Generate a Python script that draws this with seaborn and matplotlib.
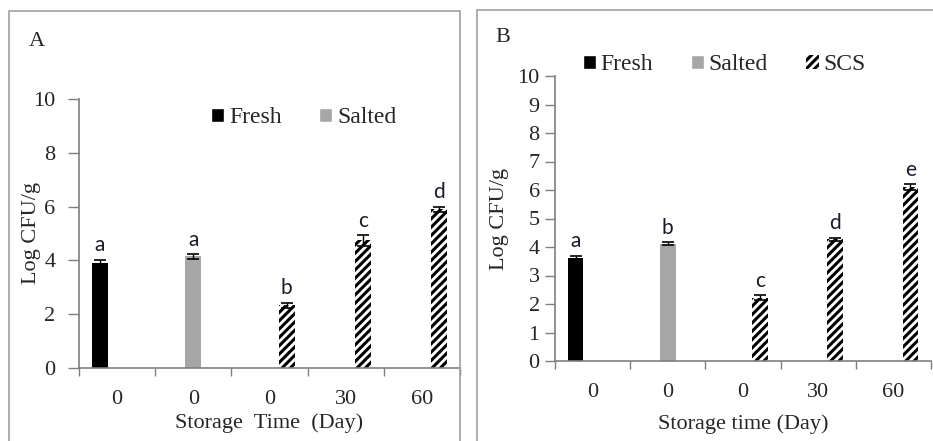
import pandas as pd
import matplotlib.pyplot as plt
import matplotlib.patches as mpatches
import seaborn as sns

# Data
categories = ['F0', 'S0', 'C0', 'C30', 'C60']
tick_labels = ['0', '0', '0', '30', '60']
series = ['Fresh', 'Salted', 'SCS', 'SCS', 'SCS']
series_order = ['Fresh', 'Salted', 'SCS']

mean_a = [3.9, 4.15, 2.33, 4.75, 5.9]
err_a = [0.13, 0.08, 0.1, 0.2, 0.1]
letters_a = ['a', 'a', 'b', 'c', 'd']

mean_b = [3.62, 4.12, 2.22, 4.27, 6.1]
err_b = [0.08, 0.04, 0.08, 0.06, 0.1]
letters_b = ['a', 'b', 'c', 'd', 'e']

colors = {'Fresh': '#000000', 'Salted': '#a6a6a6', 'SCS': '#ffffff'}

sns.set_style('white')
plt.rcParams['font.family'] = ['Liberation Serif', 'DejaVu Serif']
plt.rcParams['hatch.linewidth'] = 2.2
plt.rcParams['hatch.color'] = 'black'

W, H = 933, 441
fig = plt.figure(figsize=(W / 100, H / 100), dpi=100)


def px_axes(left, right, top, bottom):
    return fig.add_axes([left / W, 1 - bottom / H, (right - left) / W, (bottom - top) / H])


def draw_panel(ax, means, errs, letters, yticks, xlabel, ytick_pad, ytick_len, ylabel_x, xlabel_pad):
    # full category x series grid (empty slots are zero) so bars keep Excel-like cluster offsets
    rows = []
    for cat, s, m in zip(categories, series, means):
        for h in series_order:
            rows.append({'cat': cat, 'series': h, 'value': m if h == s else 0.0})
    df = pd.DataFrame(rows)
    sns.barplot(data=df, x='cat', y='value', hue='series', order=categories,
                hue_order=series_order, palette=colors, width=0.68, gap=0.08,
                errorbar=None, legend=False, edgecolor='none', ax=ax)
    bars = [p for p in ax.patches if p.get_height() > 0]
    bars.sort(key=lambda p: p.get_x())
    for p, m, e, lab, s in zip(bars, means, errs, letters, series):
        xc = p.get_x() + p.get_width() / 2
        if s == 'SCS':
            p.set_hatch('////')
            p.set_edgecolor('black')
            p.set_linewidth(0)
        ax.errorbar(xc, m, yerr=e, fmt='none', ecolor='black', elinewidth=1,
                    capsize=4, capthick=1.2)
        ax.annotate(lab, (xc, m + e), xytext=(0, 3), textcoords='offset points',
                    ha='center', va='bottom', fontsize=15, family='Lato',
                    color='#1a1a2a')
    ax.set_xlim(-0.5, len(categories) - 0.5)
    ax.set_ylim(0, 10)
    ax.set_yticks(yticks)
    ax.set_yticklabels([str(t) for t in yticks], fontsize=16)
    # category boundary ticks, labels in the middle
    ax.set_xticks([i - 0.5 for i in range(len(categories) + 1)])
    ax.set_xticklabels([])
    ax.set_xticks(range(len(categories)), minor=True)
    ax.set_xticklabels(tick_labels, minor=True, fontsize=16)
    ax.tick_params(axis='x', which='major', direction='out', length=6, width=1,
                   color='#7f7f7f', bottom=True)
    ax.tick_params(axis='x', which='minor', length=0, pad=16)
    ax.tick_params(axis='y', direction='out', length=ytick_len, width=1, color='#7f7f7f',
                   left=True, pad=ytick_pad)
    for side in ['top', 'right']:
        ax.spines[side].set_visible(False)
    for side in ['left', 'bottom']:
        ax.spines[side].set_color('#7f7f7f')
        ax.spines[side].set_linewidth(1.2)
    ax.set_xlabel(xlabel, fontsize=16, labelpad=xlabel_pad)
    ax.set_ylabel('Log CFU/g', fontsize=16)
    ax.yaxis.set_label_coords(ylabel_x, 0.5)


ax_a = px_axes(79, 460, 99, 368)
draw_panel(ax_a, mean_a, err_a, letters_a, [0, 2, 4, 6, 8, 10], 'Storage  Time  (Day)',
           9, 8, -0.1, 3)
ax_b = px_axes(555, 931, 76, 361)
draw_panel(ax_b, mean_b, err_b, letters_b, list(range(11)), 'Storage time (Day)',
           4, 7, -0.123, 9)

# legends
h_fresh = mpatches.Patch(facecolor=colors['Fresh'], label='Fresh')
h_salted = mpatches.Patch(facecolor=colors['Salted'], label='Salted')
h_scs = mpatches.Patch(facecolor='white', edgecolor='black', linewidth=0, hatch='////', label='SCS')
ax_a.legend(handles=[h_fresh, h_salted], loc='center', bbox_to_anchor=(0.59, 0.93),
            ncol=2, frameon=False, fontsize=17, handlelength=0.55, handleheight=0.55,
            handletextpad=0.2, columnspacing=1.6)
ax_b.legend(handles=[h_fresh, h_salted, h_scs], loc='center', bbox_to_anchor=(0.45, 1.04),
            ncol=3, frameon=False, fontsize=17, handlelength=0.55, handleheight=0.55,
            handletextpad=0.2, columnspacing=1.6)

# panel frames and letters
fig.patches.append(mpatches.Rectangle((9 / W, -0.05), (460 - 9) / W, 1.05 - 11 / H,
                                      transform=fig.transFigure, fill=False,
                                      edgecolor='#a0a0a0', linewidth=1.2))
fig.patches.append(mpatches.Rectangle((477 / W, -0.05), (940 - 477) / W, 1.05 - 10 / H,
                                      transform=fig.transFigure, fill=False,
                                      edgecolor='#a0a0a0', linewidth=1.2))
fig.text(29 / W, 1 - 42 / H, 'A', fontsize=16, va='center', ha='left')
fig.text(495 / W, 1 - 37 / H, 'B', fontsize=16, va='center', ha='left')

fig.savefig('out.png', dpi=100)
